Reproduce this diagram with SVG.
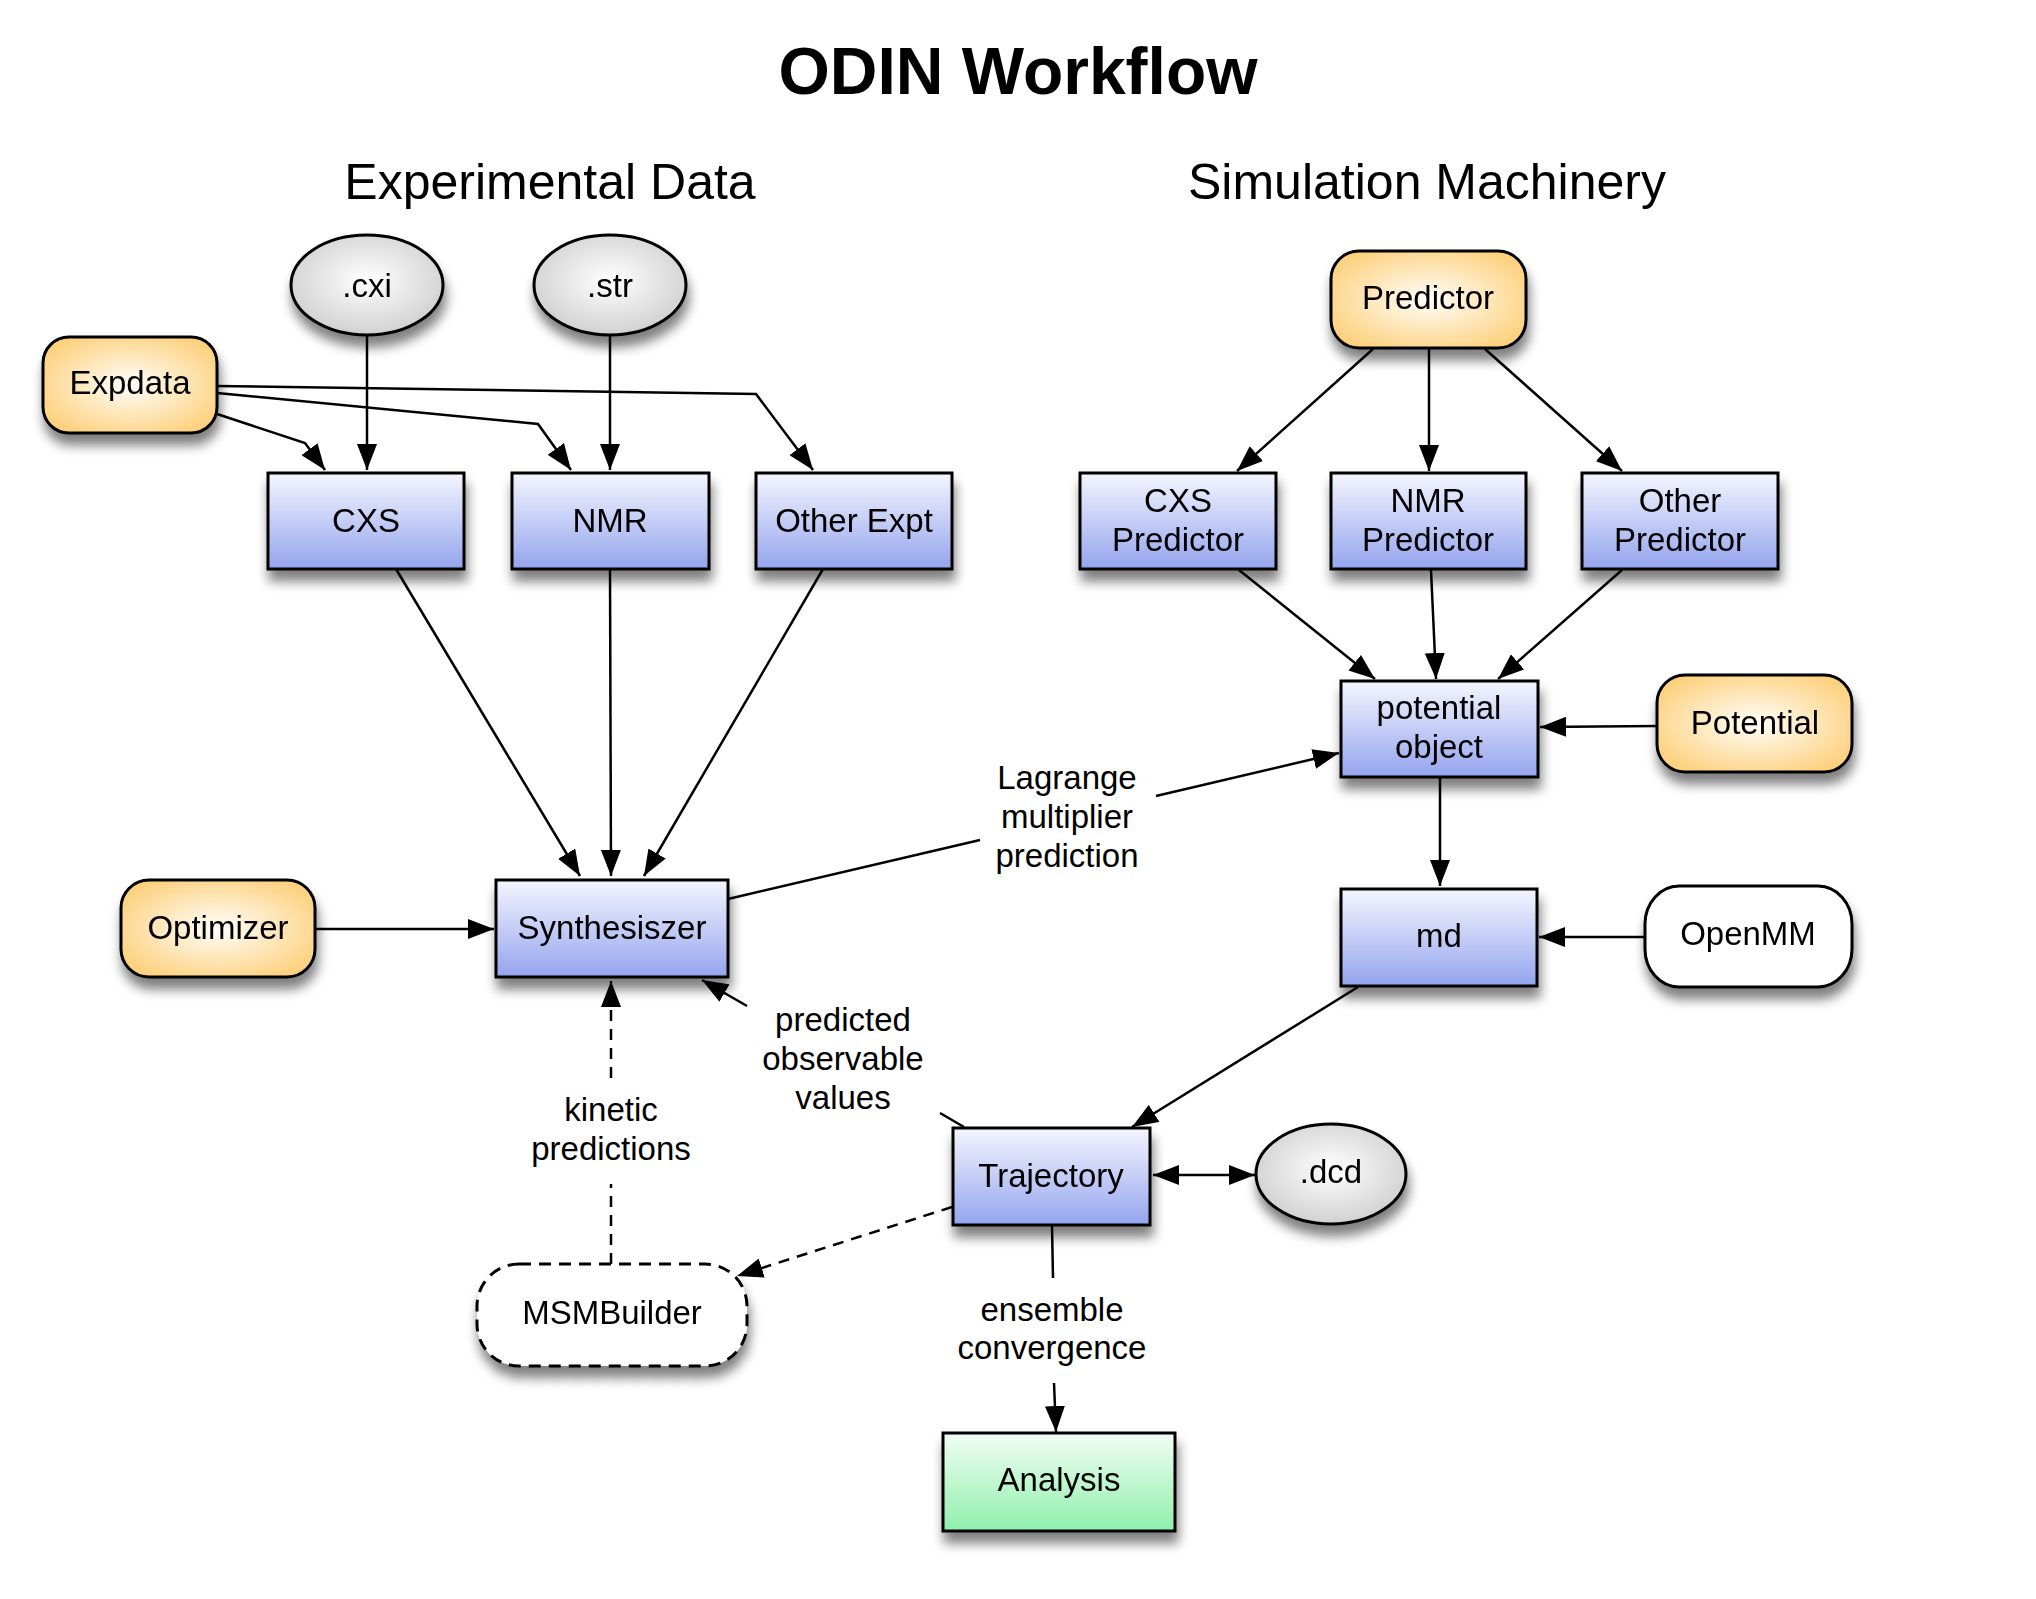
<svg xmlns="http://www.w3.org/2000/svg" width="2036" height="1599" viewBox="0 0 2036 1599">
<defs>
<linearGradient id="gBlue" x1="0" y1="0" x2="0" y2="1">
<stop offset="0" stop-color="#f5f6fe"/><stop offset="1" stop-color="#94a4ee"/>
</linearGradient>
<linearGradient id="gGreen" x1="0" y1="0" x2="0" y2="1">
<stop offset="0" stop-color="#f2fdf5"/><stop offset="1" stop-color="#8ff0ab"/>
</linearGradient>
<radialGradient id="gOrange" cx="0.5" cy="0.5" r="0.6">
<stop offset="0" stop-color="#fffefa"/><stop offset="1" stop-color="#fdd07c"/>
</radialGradient>
<radialGradient id="gGray" cx="0.5" cy="0.45" r="0.6">
<stop offset="0" stop-color="#ffffff"/><stop offset="1" stop-color="#cdcdcd"/>
</radialGradient>
<filter id="sh" x="-20%" y="-20%" width="140%" height="160%">
<feGaussianBlur in="SourceAlpha" stdDeviation="6"/>
<feOffset dx="2" dy="11" result="b"/>
<feComponentTransfer><feFuncA type="linear" slope="0.5"/></feComponentTransfer>
<feMerge><feMergeNode/><feMergeNode in="SourceGraphic"/></feMerge>
</filter>
<marker id="ah" viewBox="0 0 26 20" refX="26" refY="10" markerWidth="26" markerHeight="20" markerUnits="userSpaceOnUse" orient="auto-start-reverse">
<path d="M0,0 L26,10 L0,20 z" fill="#000"/>
</marker>
</defs>
<style>
text{font-family:"Liberation Sans",Arial,Helvetica,sans-serif;font-size:33px;fill:#000;text-anchor:middle}
.title{font-size:66px;font-weight:bold}
.sub{font-size:50px}
.box{fill:url(#gBlue);stroke:#000;stroke-width:3}
.org{fill:url(#gOrange);stroke:#000;stroke-width:3}
.gry{fill:url(#gGray);stroke:#000;stroke-width:3}
.grn{fill:url(#gGreen);stroke:#000;stroke-width:3}
.wht{fill:#fff;stroke:#000;stroke-width:3}
.dsh{fill:#fff;stroke:#000;stroke-width:3;stroke-dasharray:12,8}
.c{fill:none;stroke:#000;stroke-width:2.5}
.a{marker-end:url(#ah)}
.d{stroke-dasharray:11,8}
</style>
<rect width="2036" height="1599" fill="#fff"/>
<text class="title" x="1018" y="94">ODIN Workflow</text>
<text class="sub" x="550" y="199">Experimental Data</text>
<text class="sub" x="1427" y="199">Simulation Machinery</text>

<g id="connectors">
<polyline class="c a" points="217,414 305,443 325,470"/>
<polyline class="c a" points="217,393 538,424 571,470"/>
<polyline class="c a" points="217,386 756,394 813,470"/>
<line class="c a" x1="367" y1="336" x2="367" y2="470"/>
<line class="c a" x1="610" y1="336" x2="610" y2="470"/>
<line class="c a" x1="396" y1="569" x2="580" y2="876"/>
<line class="c a" x1="610" y1="569" x2="611" y2="876"/>
<line class="c a" x1="823" y1="569" x2="644" y2="876"/>
<line class="c a" x1="315" y1="929" x2="494" y2="929"/>
<line class="c" x1="728" y1="899" x2="980" y2="840"/>
<line class="c a" x1="1156" y1="796" x2="1339" y2="753"/>
<line class="c a" x1="1373" y1="349" x2="1237" y2="471"/>
<line class="c a" x1="1429" y1="349" x2="1429" y2="471"/>
<line class="c a" x1="1485" y1="349" x2="1622" y2="471"/>
<line class="c a" x1="1239" y1="570" x2="1375" y2="679"/>
<line class="c a" x1="1431" y1="570" x2="1436" y2="679"/>
<line class="c a" x1="1622" y1="570" x2="1498" y2="679"/>
<line class="c a" x1="1657" y1="726" x2="1540" y2="727"/>
<line class="c a" x1="1440" y1="777" x2="1440" y2="886"/>
<line class="c a" x1="1645" y1="937" x2="1539" y2="937"/>
<line class="c a" x1="1358" y1="987" x2="1132" y2="1127"/>
<line class="c a" x1="1153" y1="1175" x2="1255" y2="1175" marker-start="url(#ah)"/>
<line class="c" x1="964" y1="1127" x2="940" y2="1113"/>
<line class="c a" x1="747" y1="1006" x2="702" y2="980"/>
<line class="c d" x1="611" y1="1264" x2="611" y2="1184"/>
<line class="c d a" x1="611" y1="1078" x2="611" y2="981"/>
<line class="c d a" x1="952" y1="1207" x2="737" y2="1276"/>
<line class="c" x1="1052" y1="1226" x2="1053" y2="1278"/>
<line class="c a" x1="1054" y1="1383" x2="1056" y2="1432"/>
</g>

<g id="labels">
<text x="1067" y="789">Lagrange</text>
<text x="1067" y="828">multiplier</text>
<text x="1067" y="867">prediction</text>
<text x="843" y="1031">predicted</text>
<text x="843" y="1070">observable</text>
<text x="843" y="1109">values</text>
<text x="611" y="1121">kinetic</text>
<text x="611" y="1160">predictions</text>
<text x="1052" y="1321">ensemble</text>
<text x="1052" y="1359">convergence</text>
</g>

<g id="cxi" filter="url(#sh)"><ellipse class="gry" cx="367" cy="285" rx="76" ry="50"/><text x="367" y="297">.cxi</text></g>
<g id="str" filter="url(#sh)"><ellipse class="gry" cx="610" cy="285" rx="76" ry="50"/><text x="610" y="297">.str</text></g>
<g id="expdata" filter="url(#sh)"><rect class="org" x="43" y="337" width="174" height="96" rx="26"/><text x="130" y="394">Expdata</text></g>
<g id="cxs" filter="url(#sh)"><rect class="box" x="268" y="473" width="196" height="96"/><text x="366" y="532">CXS</text></g>
<g id="nmr" filter="url(#sh)"><rect class="box" x="512" y="473" width="197" height="96"/><text x="610" y="532">NMR</text></g>
<g id="otherexpt" filter="url(#sh)"><rect class="box" x="756" y="473" width="196" height="96"/><text x="854" y="532">Other Expt</text></g>
<g id="predictor" filter="url(#sh)"><rect class="org" x="1331" y="251" width="195" height="97" rx="28"/><text x="1428" y="309">Predictor</text></g>
<g id="cxspred" filter="url(#sh)"><rect class="box" x="1080" y="473" width="196" height="96"/><text x="1178" y="512">CXS</text><text x="1178" y="551">Predictor</text></g>
<g id="nmrpred" filter="url(#sh)"><rect class="box" x="1331" y="473" width="195" height="96"/><text x="1428" y="512">NMR</text><text x="1428" y="551">Predictor</text></g>
<g id="otherpred" filter="url(#sh)"><rect class="box" x="1582" y="473" width="196" height="96"/><text x="1680" y="512">Other</text><text x="1680" y="551">Predictor</text></g>
<g id="potobj" filter="url(#sh)"><rect class="box" x="1341" y="681" width="197" height="96"/><text x="1439" y="719">potential</text><text x="1439" y="758">object</text></g>
<g id="potential" filter="url(#sh)"><rect class="org" x="1657" y="675" width="195" height="97" rx="28"/><text x="1755" y="734">Potential</text></g>
<g id="optimizer" filter="url(#sh)"><rect class="org" x="121" y="880" width="194" height="97" rx="28"/><text x="218" y="939">Optimizer</text></g>
<g id="synth" filter="url(#sh)"><rect class="box" x="496" y="880" width="232" height="97"/><text x="612" y="939">Synthesiszer</text></g>
<g id="md" filter="url(#sh)"><rect class="box" x="1341" y="889" width="196" height="97"/><text x="1439" y="947">md</text></g>
<g id="openmm" filter="url(#sh)"><rect class="wht" x="1645" y="886" width="207" height="101" rx="34" ry="38"/><text x="1748" y="945">OpenMM</text></g>
<g id="trajectory" filter="url(#sh)"><rect class="box" x="953" y="1128" width="197" height="97"/><text x="1051" y="1187">Trajectory</text></g>
<g id="dcd" filter="url(#sh)"><ellipse class="gry" cx="1331" cy="1174" rx="75" ry="50"/><text x="1331" y="1183">.dcd</text></g>
<g id="msmbuilder" filter="url(#sh)"><rect class="dsh" x="477" y="1264" width="270" height="102" rx="42" ry="42"/><text x="612" y="1324">MSMBuilder</text></g>
<g id="analysis" filter="url(#sh)"><rect class="grn" x="943" y="1433" width="232" height="98"/><text x="1059" y="1491">Analysis</text></g>
</svg>
